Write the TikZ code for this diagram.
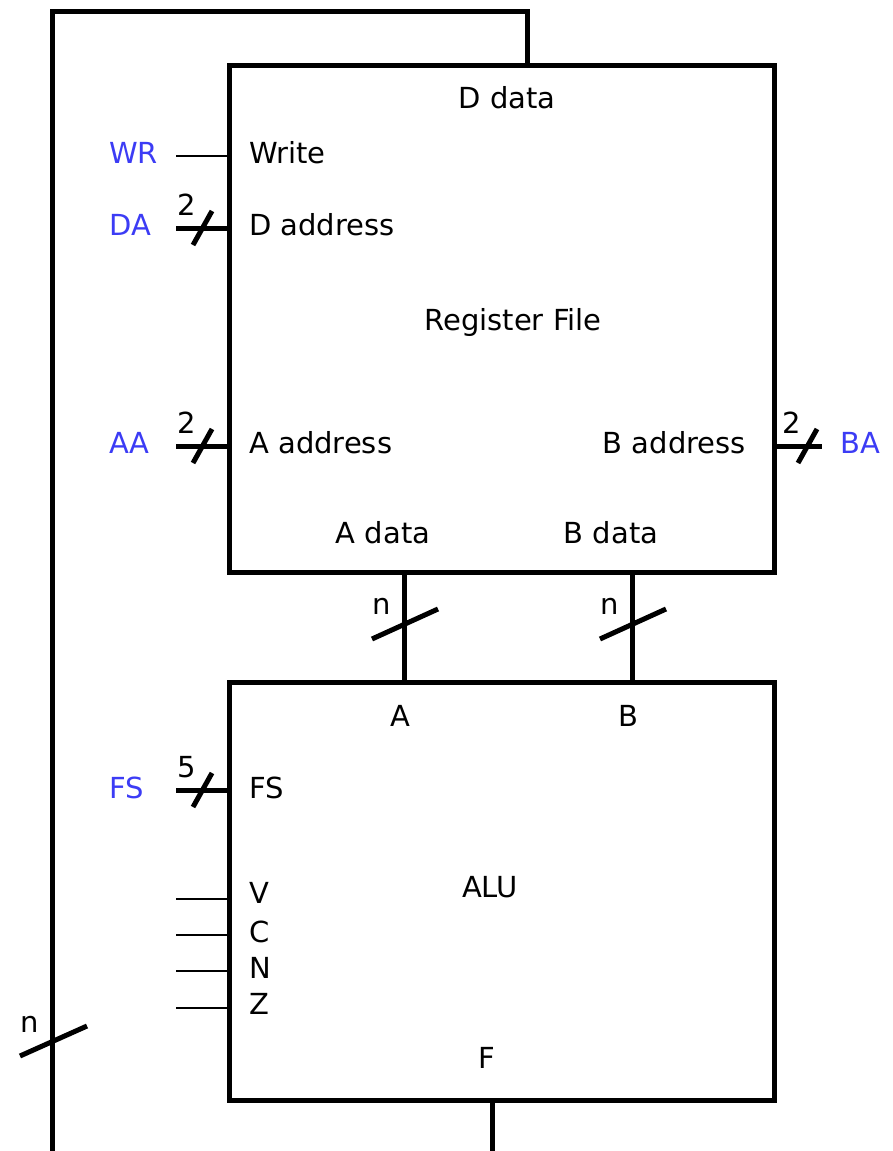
\documentclass[tikz,border=0pt]{standalone}
\usepackage{fontspec}
\setmainfont{DejaVu Sans}
\definecolor{sigblue}{RGB}{60,60,245}
\begin{document}
\begin{tikzpicture}[x=1pt,y=-1pt,
  thick box/.style={line width=5pt},
  bus/.style={line width=5pt},
  wire/.style={line width=2pt},
  lbl/.style={inner sep=0pt,font=\fontsize{29}{33}\selectfont},
  sig/.style={lbl,text=sigblue},
  num/.style={inner sep=0pt,font=\fontsize{29}{33}\selectfont}
]
\useasboundingbox (0,0) rectangle (892,1151);
% boxes
\draw[thick box] (229,65) rectangle (774,572);
\draw[thick box] (229,682) rectangle (774,1100);
% coordinates
\coordinate (fbtop) at (527,65);
\coordinate (fbtr) at (527,11);
\coordinate (fbtl) at (52,11);
\coordinate (fbbl) at (52,1154);
\coordinate (fbbr) at (492,1154);
\coordinate (aluout) at (492,1100);
\draw[bus,line join=miter] (aluout) -- (fbbr) -- (fbbl) -- (fbtl) -- (fbtr) -- (fbtop);
% n slash on feedback
\draw[bus] (20,1056) -- (87,1026);
\node[num] at (30,1024) {n};
% A/B data buses
\coordinate (ad) at (404,572); \coordinate (ain) at (404,682);
\coordinate (bd) at (632,572); \coordinate (bin) at (632,682);
\draw[bus] (ad) -- (ain);
\draw[bus] (bd) -- (bin);
\draw[bus] (372,639) -- (438,609);
\draw[bus] (600,639) -- (666,609);
\node[num] at (382,606) {n};
\node[num] at (610,606) {n};
% texts inside register file
\node[lbl] (ddata) at (507,98) {D data};
\node[lbl,anchor=west] (write) at (249,153) {Write};
\node[lbl,anchor=west] (daddr) at (249,225) {D address};
\node[lbl] (rf) at (513,322) {Register File};
\node[lbl,anchor=west] (aaddr) at (249,443) {A address};
\node[lbl,anchor=east] (baddr) at (746,443) {B address};
\node[lbl] (adata) at (383,533) {A data};
\node[lbl] (bdata) at (611,533) {B data};
% ALU texts
\node[lbl] (ain) at (400,716) {A};
\node[lbl] (bin) at (628,716) {B};
\node[lbl,anchor=west] (fsin) at (249,788) {FS};
\node[lbl] (alu) at (490,887) {ALU};
\node[lbl,anchor=west] (v) at (249,893) {V};
\node[lbl,anchor=west] (c) at (249,932) {C};
\node[lbl,anchor=west] (nn) at (249,968) {N};
\node[lbl,anchor=west] (z) at (249,1004) {Z};
\node[lbl] (f) at (487,1058) {F};
% blue signals
\node[sig,anchor=west] (wr) at (109,153) {WR};
\node[sig,anchor=west] (da) at (109,225) {DA};
\node[sig,anchor=west] (aa) at (109,443) {AA};
\node[sig,anchor=west] (fs) at (109,788) {FS};
\node[sig,anchor=west] (ba) at (840,443) {BA};
% input wires
\draw[wire] (176,156) -- (229,156);
\draw[bus] (176,228) -- (229,228);
\draw[bus] (193,245) -- (212,211);
\node[num] at (187,205) {2};
\draw[bus] (176,446) -- (229,446);
\draw[bus] (193,463) -- (212,429);
\node[num] at (187,423) {2};
\draw[bus] (774,446) -- (822,446);
\draw[bus] (798,463) -- (817,429);
\node[num] at (792,423) {2};
\draw[bus] (176,790) -- (229,790);
\draw[bus] (193,807) -- (212,773);
\node[num] at (187,767) {5};
\draw[wire] (176,899) -- (229,899);
\draw[wire] (176,935) -- (229,935);
\draw[wire] (176,971) -- (229,971);
\draw[wire] (176,1008) -- (229,1008);
\end{tikzpicture}
\end{document}
